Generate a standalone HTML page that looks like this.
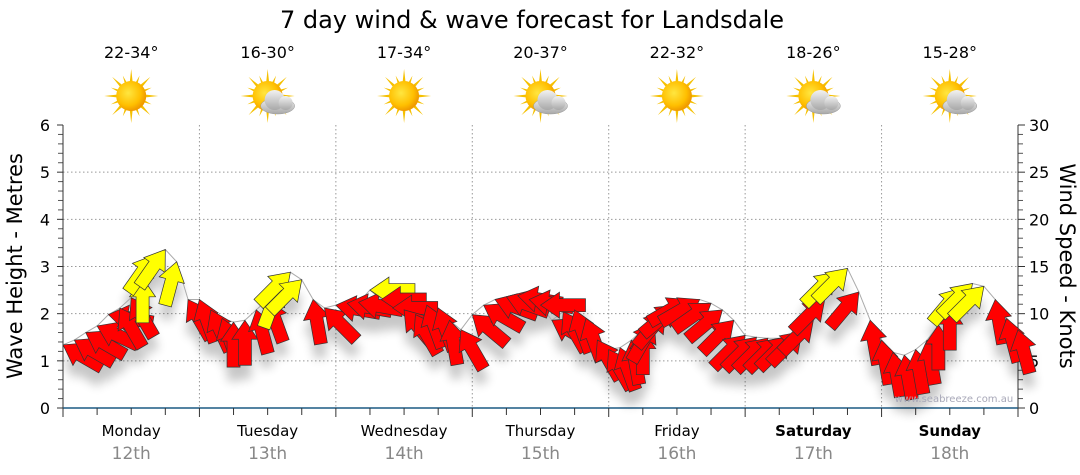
<!DOCTYPE html>
<html><head><meta charset="utf-8"><style>
body{margin:0;background:#fff;}
svg{display:block;font-family:"DejaVu Sans","Liberation Sans",sans-serif;}
</style></head><body>
<svg id="c" width="1080" height="475" viewBox="0 0 1080 475" xmlns="http://www.w3.org/2000/svg">
<defs>
<radialGradient id="sunG" cx="40%" cy="40%" r="60%"><stop offset="0" stop-color="#ffe640"/><stop offset="0.7" stop-color="#ffbf00"/><stop offset="1" stop-color="#f09a00"/></radialGradient>
<linearGradient id="cloudG" x1="0" y1="0" x2="0" y2="1"><stop offset="0" stop-color="#f2f2f2"/><stop offset="1" stop-color="#a8a8a8"/></linearGradient>
<filter id="sh" x="-50%" y="-50%" width="200%" height="200%"><feGaussianBlur stdDeviation="5"/></filter>
</defs>
<text x="532" y="28" font-size="24" text-anchor="middle" fill="#000">7 day wind &amp; wave forecast for Landsdale</text>
<g id="grid"></g>
<g id="axes"></g>
<g id="shadow" filter="url(#sh)" opacity="0.22"></g>
<g id="marks"></g>
<text x="954" y="402" font-size="10" fill="#a8a8b8" text-anchor="middle">www.seabreeze.com.au</text>
<text transform="translate(22,266) rotate(-90)" font-size="21" text-anchor="middle">Wave Height - Metres</text>
<text transform="translate(1060,266) rotate(90)" font-size="21" text-anchor="middle">Wind Speed - Knots</text>
</svg>
<script>
const days=["Monday","Tuesday","Wednesday","Thursday","Friday","Saturday","Sunday"];
const dates=["12th","13th","14th","15th","16th","17th","18th"];
const temps=["22-34°","16-30°","17-34°","20-37°","22-32°","18-26°","15-28°"];
const cloudy=[0,1,0,1,0,1,1];
const waveTicks=[0,1,2,3,4,5,6];
const windTicks=[0,5,10,15,20,25,30];
// wind speed (knots) every 2 hours
const windKnots=[6.7,7.2,8.0,8.7,9.9,10.6,11.7,13.8,16.2,16.8,15.5,11.5,
11.5,10.4,9.5,9.1,9.3,10.4,11.5,13.0,14.4,13.6,11.5,10.6,
10.9,11.1,11.2,12.5,11.5,10.6,10.4,9.9,10.9,10.6,9.3,8.3,
9.9,10.9,11.5,11.8,11.9,11.5,10.9,9.3,10.2,10.4,9.5,7.2,
6.2,6.4,7.2,8.3,9.1,10.2,10.9,11.5,11.5,11.1,10.4,9.3,
7.7,7.5,7.4,7.4,7.6,8.1,9.3,11.5,14.4,14.8,12.3,9.3,
7.2,5.9,5.6,6.2,7.2,8.8,10.9,12.7,13.2,12.9,11.5,9.5,8.3];
// direction the arrow points, degrees clockwise from up
const windDir=[-60,-60,-60,-65,-80,-30,-30,0,35,35,15,-30,
-20,-25,-20,0,0,-15,-20,20,45,45,-10,-45,
-80,-80,-80,-90,-90,-90,-40,-30,-20,-20,-10,-30,
-50,-60,-70,-70,-80,-80,-90,-60,-30,-20,-20,-30,
-30,-20,-10,0,30,40,50,60,60,55,50,45,
45,45,45,45,45,45,45,45,45,45,40,-10,
-10,-10,-10,-10,-10,0,0,40,45,45,-10,-15,-15];

const NS="http://www.w3.org/2000/svg";
const X0=63,X1=1018,Y0=408,Y1=125,DW=(X1-X0)/7;
const xHour=h=>X0+h/168*(X1-X0);
const yWave=m=>Y0-m/6*(Y0-Y1);
const yWind=k=>Y0-k/30*(Y0-Y1);
function mk(tag,attrs,parent){const e=document.createElementNS(NS,tag);for(const k in attrs)e.setAttribute(k,attrs[k]);parent.appendChild(e);return e;}
const svg=document.getElementById('c'),grid=document.getElementById('grid'),axes=document.getElementById('axes'),marks=document.getElementById('marks'),shadow=document.getElementById('shadow');

waveTicks.forEach(t=>{const y=yWave(t);
 if(t>0&&t<6){const g=mk('line',{x1:X0,x2:X1,y1:y,y2:y,stroke:'#999','stroke-dasharray':'1.5,2.5','stroke-width':1},grid);}
 const l=mk('text',{x:50,y:y+6,'font-size':16,'text-anchor':'end'},axes);l.textContent=t;
 
 mk('line',{x1:X0-6,x2:X0,y1:y,y2:y,stroke:'#333'},axes);
});
for(let i=0;i<30;i++){if(i%5)mk('line',{x1:X0-5,x2:X0,y1:yWave(i/5),y2:yWave(i/5),stroke:'#555'},axes);}
windTicks.forEach(t=>{const y=yWind(t);
 const l=mk('text',{x:1029,y:y+6,'font-size':16},axes);l.textContent=t;
 
 mk('line',{x1:X1,x2:X1+7,y1:y,y2:y,stroke:'#333'},axes);
});
for(let i=0;i<30;i++){if(i%5)mk('line',{x1:X1,x2:X1+5,y1:yWind(i),y2:yWind(i),stroke:'#555'},axes);}
mk('line',{x1:X0,x2:X0,y1:Y1,y2:Y0,stroke:'#333'},axes);
mk('line',{x1:X1,x2:X1,y1:Y1,y2:Y0,stroke:'#333'},axes);
mk('line',{x1:X0,x2:X1,y1:Y0,y2:Y0,stroke:'#1c5a84','stroke-width':1.5},axes);
for(let h=0;h<=168;h+=6){const x=xHour(h);mk('line',{x1:x,x2:x,y1:Y0,y2:Y0+(h%24?7:9),stroke:'#333'},axes);}

days.forEach((d,i)=>{const cx=X0+DW*(i+0.5),bx=X0+DW*i;
 if(i>0){const g=mk('line',{x1:bx,x2:bx,y1:Y1,y2:Y0,stroke:'#999','stroke-dasharray':'1.5,2.5'},grid);}
 const bold=i>=5;
 const t=mk('text',{x:cx,y:436,'font-size':15,'text-anchor':'middle','font-weight':bold?'bold':'normal'},axes);t.textContent=d;
 
 const dt=mk('text',{x:cx,y:459,'font-size':17,'text-anchor':'middle',fill:'#888'},axes);dt.textContent=dates[i];
 
 const tp=mk('text',{x:cx,y:58,'font-size':16,'text-anchor':'middle'},svg);tp.textContent=temps[i];
 
 const ic=mk('g',{transform:`translate(${cx},96)`},svg);
 
 for(let r=0;r<16;r++){const a=r*22.5,L=r%2?22:27;mk('polygon',{points:`-3,0 0,-${L} 3,0`,fill:'#f5c000',transform:`rotate(${a})`},ic);}
 mk('circle',{cx:0,cy:0,r:15,fill:'url(#sunG)'},ic);
 if(cloudy[i]){const cg=mk('g',{transform:'translate(10,6)'},ic);
  mk('ellipse',{cx:0,cy:4,rx:17,ry:8,fill:'url(#cloudG)',stroke:'#999','stroke-width':0.5},cg);
  mk('circle',{cx:-3,cy:-2,r:10,fill:'url(#cloudG)'},cg);
  mk('circle',{cx:8,cy:1,r:7,fill:'url(#cloudG)'},cg);}
});

const pts=windKnots.map((k,i)=>[xHour(i*2),yWind(k)]);
const ln=mk('polyline',{points:pts.map(p=>p.join(',')).join(' '),fill:'none',stroke:'#aaa','stroke-width':1},marks);

const shape="0,0 13,19 6.5,19 6.5,45 -6.5,45 -6.5,19 -13,19";
windKnots.forEach((k,i)=>{const [x,y]=pts[i];
 mk('polygon',{points:shape,fill:'#000',transform:`translate(${x},${y+14}) rotate(${windDir[i]})`},shadow);
 const a=mk('polygon',{points:shape,fill:k>=12.5?'#ffff00':'#ff0000',stroke:'#333','stroke-width':0.7,transform:`translate(${x},${y}) rotate(${windDir[i]})`},marks);
 
});
</script>
</body></html>
